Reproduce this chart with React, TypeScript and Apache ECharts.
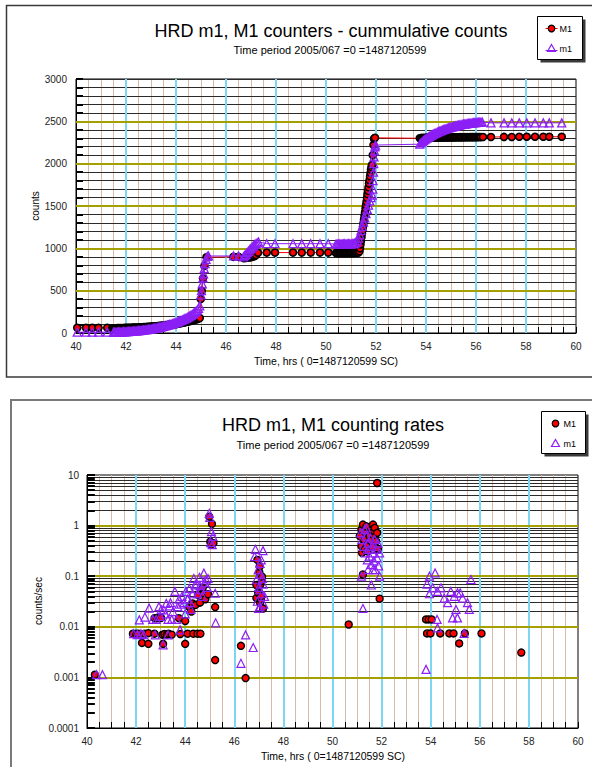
import React, { useEffect, useRef } from "react";
import * as echarts from "echarts";

const FONT = '"Liberation Sans", Arial, Helvetica, sans-serif';
const RED = "#ff0000";
const PURPLE = "#8b1ff5";
const TAN = "#d8baa8";
const BLUE = "#7cd6f4";
const OLIVE = "#a3a000";

const TITLE_TOP = "HRD m1, M1 counters - cummulative counts";
const TITLE_BOTTOM = "HRD m1, M1 counting rates";
const SUBTITLE = "Time period 2005/067 =0 =1487120599";
const X_NAME = "Time, hrs ( 0=1487120599 SC)";
const Y_NAME_TOP = "counts";
const Y_NAME_BOTTOM = "counts/sec";
const LEGEND_NAMES = ["M1", "m1"];

// cumulative counts, M1 (time hrs, counts)
const CUM_M1: [number, number][] = [
  [40.05, 62], [40.4, 62], [40.65, 62], [40.9, 62], [41.25, 62],
  [41.45, 55], [41.5, 55], [41.55, 56], [41.6, 56], [41.65, 57], [41.7, 57], [41.75, 58], [41.8, 58], [41.85, 59], [41.9, 59],
  [41.95, 60], [42.0, 60], [42.05, 61], [42.1, 61], [42.15, 62], [42.2, 62], [42.25, 63], [42.3, 63], [42.35, 64], [42.4, 65],
  [42.45, 65], [42.5, 66], [42.55, 67], [42.6, 68], [42.65, 68], [42.7, 69], [42.75, 70], [42.8, 71], [42.85, 72], [42.9, 73],
  [42.95, 74], [43.0, 75], [43.05, 76], [43.1, 77], [43.15, 78], [43.2, 80], [43.25, 81], [43.3, 82], [43.35, 84], [43.4, 85],
  [43.45, 87], [43.5, 88], [43.55, 90], [43.6, 92], [43.65, 94], [43.7, 96], [43.75, 98], [43.8, 100], [43.85, 101], [43.9, 103],
  [43.95, 104], [44.0, 105], [44.05, 108], [44.1, 111], [44.15, 114], [44.2, 117], [44.25, 120], [44.3, 123], [44.35, 126],
  [44.4, 130], [44.45, 133], [44.5, 137], [44.55, 140], [44.6, 144], [44.65, 148], [44.7, 152], [44.75, 156], [44.8, 160],
  [44.85, 165], [44.9, 170], [44.95, 176],
  [44.99, 400], [45.03, 500], [45.08, 645], [45.14, 795], [45.22, 895],
  [46.3, 900], [46.5, 900],
  [46.7, 885], [46.75, 886], [46.8, 888], [46.85, 890], [46.9, 892], [46.95, 895], [47.0, 897], [47.05, 900], [47.1, 905],
  [47.15, 910], [47.2, 920],
  [47.28, 948], [47.63, 950], [47.96, 950], [48.68, 950], [49.03, 950], [49.39, 950], [49.76, 950], [50.09, 950],
  [50.4, 945], [50.45, 944], [50.5, 945], [50.55, 944], [50.6, 945], [50.65, 944], [50.7, 945], [50.75, 944], [50.8, 945],
  [50.85, 944], [50.9, 945], [50.95, 944], [51.0, 945], [51.05, 946], [51.1, 946], [51.15, 947], [51.2, 947], [51.25, 948],
  [51.3, 950],
  [51.34, 965], [51.36, 1000], [51.38, 1045], [51.4, 1090], [51.42, 1130], [51.44, 1175], [51.46, 1215], [51.48, 1255],
  [51.5, 1300], [51.52, 1340], [51.54, 1385], [51.56, 1425], [51.58, 1470], [51.6, 1510], [51.62, 1550], [51.64, 1595],
  [51.66, 1640], [51.68, 1680], [51.7, 1720], [51.72, 1765], [51.74, 1805], [51.76, 1850], [51.78, 1890], [51.8, 1930],
  [51.82, 1960], [51.84, 1985], [51.87, 2100], [51.9, 2220], [51.92, 2295], [51.96, 2305],
  [53.75, 2300], [53.8, 2302], [53.85, 2305], [53.9, 2303], [53.95, 2306], [54.0, 2304], [54.05, 2307], [54.1, 2305],
  [54.15, 2308], [54.2, 2306], [54.25, 2308], [54.3, 2307], [54.35, 2309], [54.4, 2307], [54.45, 2309], [54.5, 2308],
  [54.55, 2310], [54.6, 2308], [54.65, 2310], [54.7, 2309], [54.75, 2311], [54.8, 2309], [54.85, 2311], [54.9, 2310],
  [54.95, 2311], [55.0, 2310], [55.05, 2312], [55.1, 2310], [55.15, 2312], [55.2, 2311], [55.25, 2312], [55.3, 2311],
  [55.35, 2313], [55.4, 2311], [55.45, 2313], [55.5, 2312], [55.55, 2313], [55.6, 2312], [55.65, 2314], [55.7, 2312],
  [55.75, 2314], [55.8, 2313], [55.85, 2314], [55.9, 2313], [55.95, 2315], [56.0, 2313], [56.05, 2315], [56.1, 2314],
  [56.15, 2315], [56.2, 2314], [56.28, 2315],
  [56.6, 2315], [57.12, 2316], [57.43, 2315], [57.73, 2318], [58.03, 2318], [58.36, 2318], [58.69, 2318], [58.93, 2318],
  [59.43, 2318],
];

// cumulative counts, m1 (time hrs, counts)
const CUM_m1: [number, number][] = [
  [40.05, 10], [40.4, 10], [40.65, 10], [40.9, 10], [41.25, 10],
  [41.5, 8], [41.55, 9], [41.6, 10], [41.65, 10], [41.7, 11], [41.75, 12], [41.8, 12], [41.85, 13], [41.9, 14], [41.95, 15],
  [42.0, 16], [42.05, 17], [42.1, 18], [42.15, 19], [42.2, 20], [42.25, 21], [42.3, 22], [42.35, 24], [42.4, 25], [42.45, 26],
  [42.5, 28], [42.55, 29], [42.6, 31], [42.65, 33], [42.7, 35], [42.75, 37], [42.8, 39], [42.85, 41], [42.9, 43], [42.95, 45],
  [43.0, 48], [43.05, 50], [43.1, 53], [43.15, 56], [43.2, 59], [43.25, 62], [43.3, 65], [43.35, 68], [43.4, 72], [43.45, 75],
  [43.5, 79], [43.55, 83], [43.6, 87], [43.65, 91], [43.7, 95], [43.75, 100], [43.8, 104], [43.85, 109], [43.9, 114],
  [43.95, 119], [44.0, 124], [44.05, 130], [44.1, 136], [44.15, 142], [44.2, 148], [44.25, 154], [44.3, 161], [44.35, 168],
  [44.4, 175], [44.45, 183], [44.5, 191], [44.55, 200], [44.6, 209], [44.65, 219], [44.7, 230], [44.75, 242], [44.8, 255],
  [44.85, 270], [44.9, 290], [44.95, 320],
  [45.0, 450], [45.02, 500], [45.05, 580], [45.08, 650], [45.1, 700], [45.13, 760], [45.16, 820], [45.2, 870], [45.25, 905],
  [45.3, 910],
  [46.3, 910], [46.5, 910],
  [46.7, 900], [46.75, 915], [46.8, 930], [46.85, 950], [46.9, 965], [46.95, 985], [47.0, 1000], [47.05, 1015], [47.1, 1030],
  [47.15, 1045], [47.2, 1055], [47.25, 1065], [47.3, 1075],
  [47.63, 1055], [47.96, 1055], [48.68, 1055], [49.03, 1055], [49.39, 1055], [49.76, 1055], [50.09, 1055],
  [50.4, 1050], [50.45, 1052], [50.5, 1049], [50.55, 1051], [50.6, 1053], [50.65, 1050], [50.7, 1052], [50.75, 1054],
  [50.8, 1051], [50.85, 1053], [50.9, 1055], [50.95, 1052], [51.0, 1054], [51.05, 1056], [51.1, 1055],
  [51.15, 1060], [51.2, 1070], [51.25, 1090], [51.3, 1120], [51.35, 1160], [51.4, 1210], [51.45, 1260], [51.5, 1310],
  [51.55, 1360], [51.6, 1410], [51.65, 1460], [51.7, 1510], [51.75, 1560], [51.8, 1600], [51.85, 1630], [51.87, 1700],
  [51.88, 1800], [51.9, 1900], [51.91, 2000], [51.92, 2080], [51.94, 2150], [51.96, 2200], [51.98, 2220],
  [53.75, 2230], [53.8, 2245], [53.85, 2260], [53.9, 2272], [53.95, 2284], [54.0, 2295], [54.05, 2305], [54.1, 2315],
  [54.15, 2324], [54.2, 2333], [54.25, 2341], [54.3, 2349], [54.35, 2357], [54.4, 2364], [54.45, 2371], [54.5, 2378],
  [54.55, 2384], [54.6, 2390], [54.65, 2396], [54.7, 2402], [54.75, 2407], [54.8, 2412], [54.85, 2417], [54.9, 2422],
  [54.95, 2427], [55.0, 2431], [55.05, 2435], [55.1, 2439], [55.15, 2443], [55.2, 2447], [55.25, 2450], [55.3, 2454],
  [55.35, 2457], [55.4, 2460], [55.45, 2463], [55.5, 2466], [55.55, 2468], [55.6, 2471], [55.65, 2473], [55.7, 2475],
  [55.75, 2477], [55.8, 2479], [55.85, 2481], [55.9, 2483], [55.95, 2484], [56.0, 2486], [56.05, 2487], [56.1, 2488],
  [56.15, 2489], [56.2, 2490], [56.25, 2491],
  [56.6, 2482], [57.12, 2482], [57.43, 2482], [57.73, 2482], [58.03, 2482], [58.36, 2482], [58.69, 2482], [58.93, 2482],
  [59.43, 2482],
];

// counting rates, M1 (time hrs, counts/sec)
const RATE_M1: [number, number][] = [
  [40.32, 0.00113],
  [41.87, 0.0073], [42.0, 0.0073], [42.1, 0.0073], [42.24, 0.0048], [42.35, 0.0073], [42.5, 0.0075], [42.5, 0.0046],
  [42.75, 0.0073], [42.75, 0.0148], [42.85, 0.0148], [42.95, 0.0148], [43.02, 0.015],
  [43.07, 0.007], [43.1, 0.0046], [43.15, 0.0072], [43.25, 0.007], [43.32, 0.0073], [43.45, 0.007],
  [43.74, 0.0148], [43.8, 0.0072], [44.0, 0.013], [44.0, 0.0046], [44.1, 0.0073], [44.17, 0.0245], [44.25, 0.02],
  [44.3, 0.029], [44.33, 0.0073], [44.42, 0.027], [44.5, 0.0073], [44.52, 0.043], [44.6, 0.03], [44.62, 0.0073],
  [44.71, 0.058], [44.75, 0.045], [44.82, 0.035], [44.93, 0.044],
  [44.98, 1.5], [45.02, 0.48], [45.05, 0.42], [45.09, 1.08], [45.15, 0.45], [45.22, 0.0245], [45.22, 0.0022],
  [46.27, 0.0042], [46.46, 0.00097],
  [46.9, 0.067], [46.9, 0.037], [46.94, 0.21], [46.97, 0.048], [47.0, 0.046], [47.02, 0.12], [47.03, 0.155],
  [47.05, 0.03], [47.07, 0.069], [47.08, 0.035], [47.1, 0.04], [47.12, 0.08], [47.13, 0.098], [47.17, 0.023],
  [50.66, 0.0111],
  [51.11, 0.62], [51.18, 0.83], [51.18, 0.39], [51.2, 0.29], [51.24, 1.05], [51.24, 0.108], [51.28, 0.53], [51.31, 0.34],
  [51.34, 0.72], [51.38, 0.97], [51.42, 0.31], [51.45, 0.42], [51.51, 0.62], [51.55, 0.5], [51.58, 0.83], [51.62, 0.38],
  [51.65, 1.05], [51.69, 0.77], [51.72, 0.9], [51.74, 0.62], [51.78, 0.49], [51.82, 6.95], [51.82, 0.72], [51.85, 0.35],
  [51.92, 0.036],
  [53.81, 0.014], [53.85, 0.0074], [53.92, 0.014], [53.99, 0.0074], [54.04, 0.014], [54.39, 0.0074], [54.76, 0.0074],
  [54.93, 0.0074], [55.16, 0.0047], [55.39, 0.0074], [56.07, 0.0074],
  [57.69, 0.0031],
];

// counting rates, m1 (time hrs, counts/sec)
const RATE_m1: [number, number][] = [
  [40.39, 0.00113], [40.63, 0.00113],
  [41.9, 0.0073], [42.05, 0.007], [42.13, 0.0137], [42.2, 0.0073], [42.3, 0.007], [42.36, 0.0156], [42.53, 0.0234],
  [42.68, 0.014], [42.78, 0.0069], [42.82, 0.014], [42.93, 0.025], [42.98, 0.016], [43.02, 0.022], [43.1, 0.0044],
  [43.12, 0.0217], [43.2, 0.018], [43.23, 0.029], [43.3, 0.014], [43.3, 0.0069], [43.37, 0.026], [43.4, 0.03],
  [43.45, 0.014], [43.5, 0.02], [43.58, 0.05], [43.65, 0.014], [43.7, 0.025], [43.75, 0.035], [43.79, 0.0087],
  [43.82, 0.028], [43.87, 0.04], [43.95, 0.03], [44.0, 0.018], [44.03, 0.05], [44.1, 0.035], [44.17, 0.057], [44.2, 0.03],
  [44.23, 0.022], [44.3, 0.045], [44.35, 0.09], [44.4, 0.067], [44.47, 0.07], [44.5, 0.045], [44.58, 0.095], [44.6, 0.065],
  [44.65, 0.054], [44.7, 0.04], [44.76, 0.115], [44.8, 0.075], [44.85, 0.085], [44.9, 0.06], [44.93, 0.09],
  [44.98, 1.75], [45.0, 1.45], [45.04, 0.46], [45.07, 0.76], [45.1, 0.42], [45.13, 0.61], [45.22, 0.046], [45.24, 0.012],
  [46.27, 0.0019], [46.46, 0.0069], [46.77, 0.0039],
  [46.83, 0.245], [46.86, 0.34], [46.9, 0.085], [46.94, 0.032], [46.97, 0.133], [46.99, 0.023], [47.0, 0.06],
  [47.03, 0.054], [47.05, 0.18], [47.07, 0.11], [47.1, 0.21], [47.12, 0.045], [47.15, 0.09], [47.17, 0.32], [47.17, 0.07],
  [47.2, 0.028], [47.23, 0.04], [47.05, 0.025],
  [51.15, 0.72], [51.18, 0.1], [51.2, 0.53], [51.24, 0.023], [51.26, 0.39], [51.31, 0.83], [51.34, 0.29], [51.38, 0.62],
  [51.38, 0.9], [51.42, 0.21], [51.45, 0.45], [51.45, 0.135], [51.47, 0.34], [51.51, 0.25], [51.55, 0.57], [51.58, 0.17],
  [51.58, 0.067], [51.61, 0.39], [51.65, 0.29], [51.65, 0.135], [51.69, 0.2], [51.72, 0.53], [51.74, 0.135], [51.78, 0.34],
  [51.82, 0.23], [51.85, 0.45], [51.88, 0.16], [51.92, 0.29], [51.92, 0.1],
  [53.81, 0.00144], [53.85, 0.07], [53.95, 0.1], [53.95, 0.045], [54.08, 0.059], [54.18, 0.116], [54.26, 0.014],
  [54.28, 0.05], [54.28, 0.0095], [54.42, 0.059], [54.55, 0.037], [54.69, 0.03], [54.82, 0.05], [54.89, 0.015],
  [54.96, 0.04], [55.03, 0.022], [55.09, 0.047], [55.09, 0.015], [55.2, 0.047], [55.3, 0.037], [55.36, 0.0074],
  [55.5, 0.03], [55.57, 0.022], [55.64, 0.086],
];

// axis ranges / ticks
const X_RANGE = [40, 60];
const X_MINOR_STEP = 0.5;
const X_MAJOR_STEP = 2;
const Y_TOP_RANGE = [0, 3000];
const Y_TOP_MINOR_STEP = 100;
const Y_TOP_MAJOR_STEP = 500;
const Y_LOG_RANGE = [0.0001, 10];
const LOG_DECADES = [0.0001, 0.001, 0.01, 0.1, 1];
const LOG_MULTIPLIERS = [2, 3, 4, 5, 6, 7, 8, 9];

const LOG_MINOR: number[] = [];
LOG_DECADES.forEach((d) => LOG_MULTIPLIERS.forEach((m) => LOG_MINOR.push(Number((d * m).toPrecision(3)))));

const labelStyle = { color: "#222", fontSize: 10, fontFamily: FONT };
const plainNumber = (v: number) => String(Number(v.toPrecision(6)));

function xAxes(gridIndex: number) {
  return [
    {
      gridIndex, type: "value", min: X_RANGE[0], max: X_RANGE[1], interval: X_MINOR_STEP, position: "bottom", z: 0,
      axisLine: { show: true, onZero: false, lineStyle: { color: "#000", width: 1 } },
      axisTick: { show: true, inside: true, length: 6, lineStyle: { color: "#000", width: 1 } },
      axisLabel: { show: false },
      splitLine: { show: true, showMinLine: false, showMaxLine: false, lineStyle: { color: TAN, width: 1 } },
    },
    {
      gridIndex, type: "value", min: X_RANGE[0], max: X_RANGE[1], interval: X_MAJOR_STEP, position: "bottom", z: 2,
      axisLine: { show: false, onZero: false }, axisTick: { show: false },
      axisLabel: { ...labelStyle, margin: 8, formatter: plainNumber },
      splitLine: { show: true, showMinLine: false, showMaxLine: false, lineStyle: { color: BLUE, width: 2 } },
    },
  ];
}

function textEl(text: string, x: number, y: number, fontSize: number, rotation = 0) {
  return {
    type: "text", x, y, rotation, silent: true, z: 50,
    style: { text, fontSize, fontFamily: FONT, fill: "#000", align: "center", verticalAlign: "middle" },
  };
}

function legendEls(bx: number, by: number, w: number, h: number, withLines: boolean) {
  const mx = bx + 14;
  const y1 = by + 12;
  const y2 = by + 32;
  const els: any[] = [
    { type: "rect", shape: { x: bx + 3, y: by + 3, width: w, height: h }, style: { fill: "#3a3a3a" }, z: 50, silent: true },
    { type: "rect", shape: { x: bx, y: by, width: w, height: h }, style: { fill: "#fff", stroke: "#000", lineWidth: 1 }, z: 51, silent: true },
  ];
  if (withLines) {
    els.push({ type: "line", shape: { x1: mx - 6, y1, x2: mx + 6, y2: y1 }, style: { stroke: RED, lineWidth: 1 }, z: 52, silent: true });
    els.push({ type: "line", shape: { x1: mx - 6, y1: y2 + 2, x2: mx + 6, y2: y2 + 2 }, style: { stroke: PURPLE, lineWidth: 1 }, z: 52, silent: true });
  }
  els.push({ type: "circle", shape: { cx: mx, cy: y1, r: 3.3 }, style: { fill: RED, stroke: "#000", lineWidth: 1.2 }, z: 53, silent: true });
  els.push({
    type: "polygon", shape: { points: [[mx, y2 - 4], [mx + 4, y2 + 3], [mx - 4, y2 + 3]] },
    style: { fill: "none", stroke: PURPLE, lineWidth: 1.2 }, z: 53, silent: true,
  });
  els.push({ type: "text", x: mx + 8, y: y1, style: { text: LEGEND_NAMES[0], fontSize: 9, fontFamily: FONT, fill: "#000", verticalAlign: "middle" }, z: 53, silent: true });
  els.push({ type: "text", x: mx + 8, y: y2, style: { text: LEGEND_NAMES[1], fontSize: 9, fontFamily: FONT, fill: "#000", verticalAlign: "middle" }, z: 53, silent: true });
  return els;
}

export default function App() {
  const ref = useRef<HTMLDivElement>(null);
  useEffect(() => {
    if (!ref.current) return;
    const chart = echarts.init(ref.current, undefined, { renderer: "svg" });
    const option: any = {
      animation: false,
      backgroundColor: "#fff",
      grid: [
        { left: 76, top: 79, width: 500, height: 254, show: true, borderColor: "#000", borderWidth: 1, backgroundColor: "#fff" },
        { left: 87, top: 475, width: 491, height: 253, show: true, borderColor: "#000", borderWidth: 1, backgroundColor: "#fff" },
      ],
      xAxis: [...xAxes(0), ...xAxes(1)],
      yAxis: [
        {
          gridIndex: 0, type: "value", min: Y_TOP_RANGE[0], max: Y_TOP_RANGE[1], interval: Y_TOP_MINOR_STEP, position: "left", z: 1,
          axisLine: { show: true, onZero: false, lineStyle: { color: "#000" } },
          axisTick: { show: true, inside: true, length: 7, lineStyle: { color: "#000", width: 2 } },
          axisLabel: { show: false },
          splitLine: { show: true, showMinLine: false, lineStyle: { color: "#2a2a2a", width: 1 } },
        },
        {
          gridIndex: 0, type: "value", min: Y_TOP_RANGE[0], max: Y_TOP_RANGE[1], interval: Y_TOP_MAJOR_STEP, position: "left", z: 3,
          axisLine: { show: false, onZero: false }, axisTick: { show: false },
          axisLabel: { ...labelStyle, margin: 9, formatter: plainNumber },
          splitLine: { show: true, showMinLine: false, showMaxLine: false, lineStyle: { color: OLIVE, width: 2.2 } },
        },
        {
          gridIndex: 1, type: "log", logBase: 10, min: Y_LOG_RANGE[0], max: Y_LOG_RANGE[1], position: "left", z: 3,
          axisLine: { show: true, onZero: false, lineStyle: { color: "#000" } },
          axisTick: { show: true, inside: true, length: 8, lineStyle: { color: "#000", width: 2 } },
          axisLabel: { ...labelStyle, margin: 8, formatter: (v: number) => String(Number(v.toPrecision(3))) },
          splitLine: { show: true, showMinLine: false, showMaxLine: false, lineStyle: { color: OLIVE, width: 2.2 } },
        },
      ],
      series: [
        {
          name: "M1", type: "line", xAxisIndex: 0, yAxisIndex: 0, data: CUM_M1, symbol: "circle", symbolSize: 7,
          showAllSymbol: true, silent: true, z: 10,
          lineStyle: { color: RED, width: 1 },
          itemStyle: { color: RED, borderColor: "#000", borderWidth: 1.6 },
        },
        {
          name: "m1", type: "line", xAxisIndex: 0, yAxisIndex: 0, data: CUM_m1, symbol: "triangle", symbolSize: 8,
          showAllSymbol: true, silent: true, z: 11,
          lineStyle: { color: PURPLE, width: 1 },
          itemStyle: { color: "rgba(0,0,0,0)", borderColor: PURPLE, borderWidth: 1.3 },
        },
        {
          name: "grid-minor", type: "line", xAxisIndex: 2, yAxisIndex: 2, data: [], silent: true, z: 1,
          markLine: {
            silent: true, z: 1, symbol: ["none", "none"], label: { show: false }, animation: false,
            lineStyle: { color: "#2a2a2a", width: 1, type: "solid" },
            data: [
              ...LOG_MINOR.map((v) => ({ yAxis: v })),
              ...LOG_MINOR.map((v) => [
                { coord: [X_RANGE[0], v], lineStyle: { color: "#000", width: 2, type: "solid" } },
                { coord: [X_RANGE[0] + 0.32, v] },
              ]),
            ],
          },
        },
        {
          name: "M1", type: "scatter", xAxisIndex: 2, yAxisIndex: 2, data: RATE_M1, symbol: "circle", symbolSize: 7,
          silent: true, z: 10,
          itemStyle: { color: RED, borderColor: "#000", borderWidth: 1.4, opacity: 1 },
        },
        {
          name: "m1", type: "scatter", xAxisIndex: 2, yAxisIndex: 2, data: RATE_m1, symbol: "triangle", symbolSize: 8,
          silent: true, z: 11,
          itemStyle: { color: "rgba(0,0,0,0)", borderColor: PURPLE, borderWidth: 1.2, opacity: 1 },
        },
      ],
      graphic: [
        { type: "rect", shape: { x: 6.5, y: 5.5, width: 640, height: 371.5 }, style: { fill: "none", stroke: "#3a3a3a", lineWidth: 1.5 }, z: 40, silent: true },
        { type: "rect", shape: { x: 11, y: 400, width: 640, height: 420 }, style: { fill: "none", stroke: "#7a7a7a", lineWidth: 2 }, z: 40, silent: true },
        textEl(TITLE_TOP, 331, 30.5, 18),
        textEl(SUBTITLE, 330, 50, 11),
        textEl(Y_NAME_TOP, 35, 206, 10, Math.PI / 2),
        textEl(X_NAME, 326, 361, 10.5),
        textEl(TITLE_BOTTOM, 333, 425, 18),
        textEl(SUBTITLE, 333, 445, 11),
        textEl(Y_NAME_BOTTOM, 38, 601, 10, Math.PI / 2),
        textEl(X_NAME, 333, 756, 10.5),
        ...legendEls(537.5, 16.5, 45, 43, true),
        ...legendEls(541.5, 411.5, 44, 42, false),
      ],
    };
    chart.setOption(option);
    return () => chart.dispose();
  }, []);
  return <div ref={ref} style={{ position: "absolute", left: 0, top: 0, width: 592, height: 767, background: "#fff" }} />;
}
